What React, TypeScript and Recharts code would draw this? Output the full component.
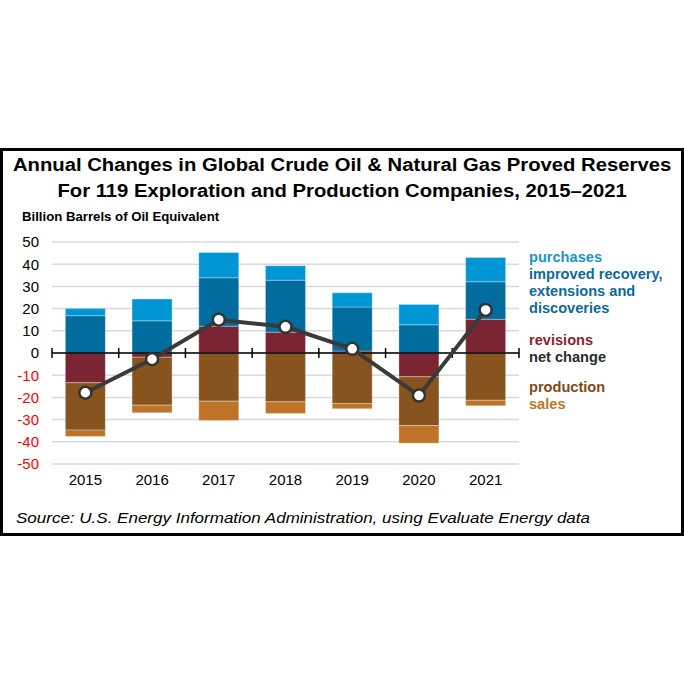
import React from 'react';
import { ComposedChart, Bar, Line, XAxis, YAxis, CartesianGrid, ReferenceLine } from 'recharts';

const years = ['2015', '2016', '2017', '2018', '2019', '2020', '2021'];
const purchases = [3.2, 9.8, 11.4, 6.5, 6.4, 9.2, 10.9];
const improved = [16.8, 14.5, 21.8, 23.4, 19.8, 12.7, 16.9];
const revisions = [-13.4, -1.9, 12.1, 9.4, 0.9, -10.7, 15.2];
const production = [-21.3, -21.6, -21.7, -22.0, -22.8, -22.0, -21.3];
const sales = [-2.9, -3.4, -8.7, -5.2, -2.3, -7.9, -2.5];
const netChange = [-17.9, -2.8, 15.0, 11.8, 1.9, -19.2, 19.4];
const yTicks = [-50, -40, -30, -20, -10, 0, 10, 20, 30, 40, 50];

const rows = years.map((year, i) => ({
  year,
  purchases: purchases[i],
  improved: improved[i],
  revisions: revisions[i],
  production: production[i],
  sales: sales[i],
  net: netChange[i],
}));

const FONT = '"Liberation Sans", Arial, Helvetica, sans-serif';

const C = {
  purchases: '#0096d6',
  improved: '#006d9e',
  revisions: '#7a2531',
  production: '#87531f',
  sales: '#bf7329',
  net: '#3a3a3a',
};

function YTick(props: any) {
  const { x, y, payload } = props;
  const v = payload.value;
  return (
    <text x={x} y={y} dy="0.36em" textAnchor="end" fontSize={15} fontFamily={FONT} fill={v < 0 ? '#ff0000' : '#000'}>
      {v}
    </text>
  );
}

// zero axis with tick marks at category boundaries
function ZeroAxis(props: any) {
  const { x1, y1, x2 } = props;
  const n = years.length;
  const step = (x2 - x1) / n;
  const marks = [];
  for (let i = 0; i <= n; i++) {
    const x = x1 + step * i;
    marks.push(<line key={i} x1={x} x2={x} y1={y1 - 5} y2={y1 + 5} stroke="#000" strokeWidth={1.5} />);
  }
  return (
    <g>
      <line x1={x1} x2={x2} y1={y1} y2={y1} stroke="#000" strokeWidth={1.5} />
      {marks}
    </g>
  );
}

const legend = [
  { text: 'purchases', color: '#1895d3', y: 257 },
  { text: 'improved recovery,', color: '#0d6a9b', y: 274 },
  { text: 'extensions and', color: '#0d6a9b', y: 291 },
  { text: 'discoveries', color: '#0d6a9b', y: 308 },
  { text: 'revisions', color: '#8f2233', y: 340 },
  { text: 'net change', color: '#2b2b2b', y: 357 },
  { text: 'production', color: '#7e4a17', y: 387 },
  { text: 'sales', color: '#c0752a', y: 404 },
];

export default function App() {
  return (
    <div style={{ position: 'absolute', left: 0, top: 0, width: 684, height: 684, background: '#fff', fontFamily: FONT }}>
      <div
        style={{
          position: 'absolute', left: 0, top: 148, width: 684, height: 388,
          border: '3px solid #000', boxSizing: 'border-box',
        }}
      />
      <div
        style={{
          position: 'absolute', left: 0, width: 684, top: 151.5, textAlign: 'center', fontWeight: 'bold',
          fontSize: 18.8, lineHeight: '26px', color: '#000', transform: 'scaleX(1.078)', transformOrigin: '341px 0',
        }}
      >
        Annual Changes in Global Crude Oil &amp; Natural Gas Proved Reserves
        <br />
        For 119 Exploration and Production Companies, 2015–2021
      </div>
      <div style={{ position: 'absolute', left: 22, top: 209, fontWeight: 'bold', fontSize: 13.2, color: '#000', whiteSpace: 'nowrap' }}>
        Billion Barrels of Oil Equivalent
      </div>
      {legend.map((l) => (
        <div
          key={l.text}
          style={{ position: 'absolute', left: 529, top: l.y - 9, fontWeight: 'bold', fontSize: 14.6, lineHeight: '18px', color: l.color, whiteSpace: 'nowrap' }}
        >
          {l.text}
        </div>
      ))}
      <div
        style={{
          position: 'absolute', left: 16, top: 509.3, fontStyle: 'italic', fontSize: 15.5, color: '#000',
          whiteSpace: 'nowrap', transform: 'scaleX(1.097)', transformOrigin: '0 0',
        }}
      >
        Source: U.S. Energy Information Administration, using Evaluate Energy data
      </div>
      <ComposedChart
        width={684}
        height={684}
        data={rows}
        stackOffset="sign"
        barCategoryGap="20%"
        margin={{ top: 242, right: 165, bottom: 190, left: 0 }}
        style={{ position: 'absolute', left: 0, top: 0 }}
      >
        <CartesianGrid vertical={false} stroke="#d9d9d9" strokeWidth={1.5} />
        <XAxis
          dataKey="year"
          height={30}
          axisLine={false}
          tickLine={false}
          tickSize={0}
          tickMargin={10}
          tick={{ fill: '#000', fontSize: 15, fontFamily: FONT }}
        />
        <YAxis
          width={52}
          domain={[-50, 50]}
          ticks={yTicks}
          interval={0}
          axisLine={false}
          tickLine={false}
          tickSize={0}
          tickMargin={13}
          tick={<YTick />}
        />
        <Bar dataKey="revisions" stackId="a" fill={C.revisions} stroke="rgba(255,255,255,0.3)" strokeWidth={1} isAnimationActive={false} />
        <Bar dataKey="improved" stackId="a" fill={C.improved} stroke="rgba(255,255,255,0.3)" strokeWidth={1} isAnimationActive={false} />
        <Bar dataKey="production" stackId="a" fill={C.production} stroke="rgba(255,255,255,0.3)" strokeWidth={1} isAnimationActive={false} />
        <Bar dataKey="purchases" stackId="a" fill={C.purchases} stroke="rgba(255,255,255,0.3)" strokeWidth={1} isAnimationActive={false} />
        <Bar dataKey="sales" stackId="a" fill={C.sales} stroke="rgba(255,255,255,0.3)" strokeWidth={1} isAnimationActive={false} />
        <ReferenceLine y={0} shape={<ZeroAxis />} />
        <Line
          dataKey="net"
          type="linear"
          stroke={C.net}
          strokeWidth={4}
          dot={{ r: 6, fill: '#fff', stroke: '#333', strokeWidth: 2.5 }}
          isAnimationActive={false}
        />
      </ComposedChart>
    </div>
  );
}
